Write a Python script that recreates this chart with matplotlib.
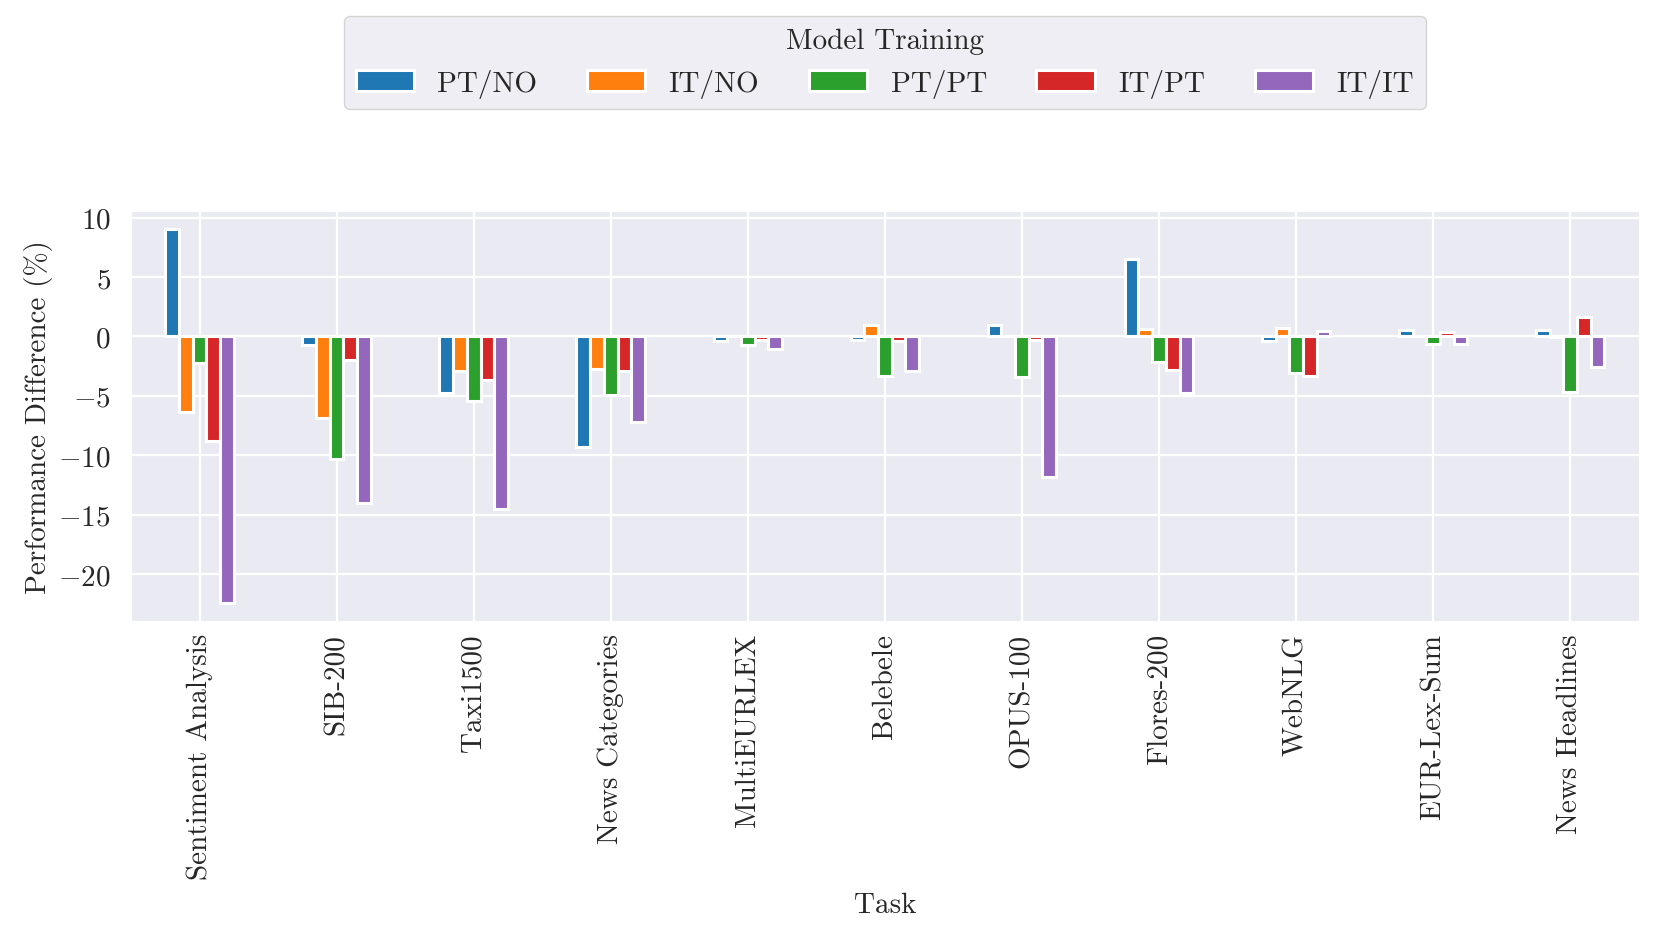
import numpy as np
import matplotlib
matplotlib.use("Agg")
import matplotlib.pyplot as plt
import seaborn as sns

sns.set_style("darkgrid")
plt.rcParams["font.family"] = "serif"
plt.rcParams["font.serif"] = ["cmr10"]
plt.rcParams["mathtext.fontset"] = "cm"
plt.rcParams["axes.formatter.use_mathtext"] = True
plt.rcParams["axes.unicode_minus"] = True

tasks = ["Sentiment Analysis", "SIB-200", "Taxi1500", "News Categories",
         "MultiEURLEX", "Belebele", "OPUS-100", "Flores-200", "WebNLG",
         "EUR-Lex-Sum", "News Headlines"]

series_names = ["PT/NO", "IT/NO", "PT/PT", "IT/PT", "IT/IT"]

pt_no = [9.0, -0.7, -4.73, -9.34, -0.42, -0.28, 0.93, 6.53, -0.4, 0.53, 0.5]
it_no = [-6.33, -6.9, -2.95, -2.73, 0.0, 0.93, 0.0, 0.65, 0.7, 0.0, -0.07]
pt_pt = [-2.25, -10.3, -5.4, -4.92, -0.7, -3.3, -3.46, -2.19, -3.1, -0.62, -4.65]
it_pt = [-8.78, -2.0, -3.66, -2.9, -0.28, -0.35, -0.28, -2.87, -3.3, 0.37, 1.6]
it_it = [-22.4, -14.06, -14.5, -7.23, -1.04, -2.95, -11.8, -4.78, 0.45, -0.68, -2.6]

values = [pt_no, it_no, pt_pt, it_pt, it_it]
colors = ["#1f77b4", "#ff7f0e", "#2ca02c", "#d62728", "#9467bd"]

fs = 21
fig = plt.figure(figsize=(16.6, 9.37), dpi=100)
ax = fig.add_axes([0.0789, 0.336, 0.9083, 0.438])

x = np.arange(len(tasks))
width = 0.1
for j, (name, vals) in enumerate(zip(series_names, values)):
    ax.bar(x + (j - 2) * width, vals, width=width, label=name,
           color=colors[j], edgecolor="white", linewidth=2.2)

ax.set_xlim(-0.5, len(tasks) - 0.5)
ax.set_xticks(x)
ax.set_xticklabels(tasks, rotation=90, fontsize=fs)
ax.tick_params(axis="y", labelsize=fs, pad=11)
ax.tick_params(axis="x", pad=5)
ax.grid(True, color="white", linewidth=1.6)
ax.set_xlabel("Task", fontsize=fs, labelpad=9)
ax.set_ylabel("Performance Difference (%)", fontsize=fs)

leg = ax.legend(title="Model Training", ncol=5, loc="lower center",
                bbox_to_anchor=(0.5, 1.212), fontsize=fs, title_fontsize=fs,
                frameon=True, columnspacing=1.7)
leg.get_frame().set_edgecolor("0.8")

fig.savefig("out.png", dpi=100)
